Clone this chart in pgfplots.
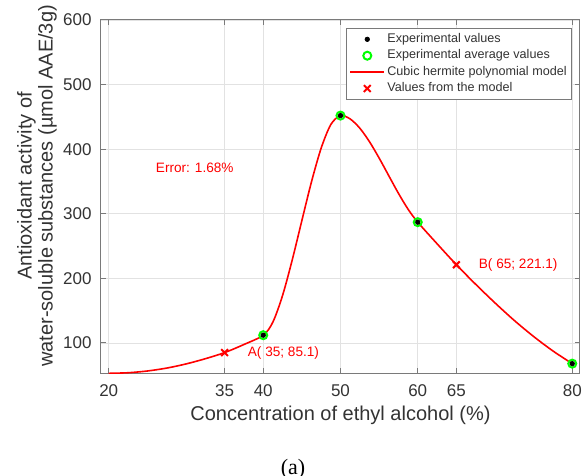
\documentclass[border=0pt]{standalone}
\usepackage{pgfplots}
\pgfplotsset{compat=1.18}
\usepackage{fontspec}
\setmainfont{Liberation Sans}
\newfontfamily\capfont{Liberation Serif}

\definecolor{axgray}{HTML}{7A7A7A}
\definecolor{txtgray}{HTML}{333333}
\definecolor{gridgray}{HTML}{E2E2E2}
\definecolor{mred}{HTML}{FF0000}
\definecolor{mgreen}{HTML}{00FF00}

\begin{document}
\begin{tikzpicture}
\begin{axis}[
    at={(0,0)}, anchor=south west,
    scale only axis, width=239.5pt, height=176.5pt,
    xmin=19, xmax=81, ymin=53.5, ymax=600,
    xtick={20,35,40,50,60,65,80},
    ytick={100,200,300,400,500,600},
    tick align=inside, major tick length=2.5pt,
    xtick pos=both, ytick pos=both,
    grid=major, major grid style={gridgray, line width=0.4pt},
    axis line style={axgray, line width=0.5pt},
    tick style={axgray, line width=0.5pt},
    /pgf/number format/assume math mode=true,
    tick label style={font=\fontsize{8.5}{10}\selectfont, text=txtgray},
    xticklabel style={yshift=-2.5pt},
    yticklabel style={xshift=-1.2pt},
    xlabel={Concentration of ethyl alcohol (\%)},
    xlabel style={at={(axis description cs:0.5,0)}, anchor=center, yshift=-21pt,
        font=\fontsize{10}{11}\selectfont, text=txtgray},
    ylabel={Antioxidant activity of\\water-soluble substances (µmol AAE/3g)},
    ylabel style={at={(axis description cs:0,0.53)}, anchor=center, yshift=32pt,
        align=center, font=\fontsize{10}{10.5}\selectfont, text=txtgray},
    legend style={at={(rel axis cs:0.983,0.977)}, anchor=north east,
        draw=axgray, line width=0.4pt, fill=white,
        font=\fontsize{6.3}{7}\selectfont, text=txtgray,
        nodes={inner sep=1.1pt, text height=4.6pt, text depth=1.4pt},
        inner sep=1.3pt},
    legend cell align=left,
]
\addlegendimage{only marks, mark=*, mark size=1.1pt, black}
\addlegendentry{Experimental values}
\addlegendimage{only marks, mark=o, mark size=2pt, mgreen, line width=1pt}
\addlegendentry{Experimental average values}
\addlegendimage{mred, line width=0.8pt}
\addlegendentry{Cubic hermite polynomial model}
\addlegendimage{only marks, mark=x, mark size=2.4pt, mred, line width=1pt}
\addlegendentry{Values from the model}

% model curve
\addplot[mred, line width=0.8pt, smooth, tension=0.5, forget plot] coordinates {
    (20,53) (22.5,53.9) (25,56.6) (27.5,61.1) (30,67.5) (32.5,75.6)
    (35,85.1) (37.5,97.6) (40,112)
    (41.25,132.4) (42.5,173.5) (43.75,228.4) (45,289.5) (46.25,349.7)
    (47.5,401.7) (48.75,438.2) (50,452)
    (51.25,446.8) (52.5,432.5) (53.75,411.6) (55,386.3) (56.25,358.9)
    (57.5,331.7) (58.75,307.0) (60,287)
    (62.5,253.6) (65,221.1) (67.5,190.8) (70,162.0) (72.5,134.8)
    (75,110.0) (77.5,87.6) (80,68)
};
% experimental average values
\addplot[only marks, mark=o, mark size=2pt, mgreen, line width=1pt, forget plot] coordinates {
    (20,53) (40,112) (50,452) (60,287) (80,68)
};
% experimental values
\addplot[only marks, mark=*, mark size=1.1pt, black, forget plot] coordinates {
    (20,53) (40,112) (50,452) (60,287) (80,68)
};
% values from the model
\addplot[only marks, mark=x, mark size=2.4pt, mred, line width=1pt, forget plot] coordinates {
    (35,85.1) (65,221.1)
};

\node[anchor=west, text=mred, font=\fontsize{6.8}{8}\selectfont] at (axis cs:25.2,371) {Error: 1.68\%};
\node[anchor=west, text=mred, font=\fontsize{6.8}{8}\selectfont] at (axis cs:37.1,85) {A( 35; 85.1)};
\node[anchor=west, text=mred, font=\fontsize{6.8}{8}\selectfont] at (axis cs:67,221) {B( 65; 221.1)};
\end{axis}
\node[font=\capfont\fontsize{11}{12}\selectfont] at (96pt,-48pt) {(a)};
\pgfresetboundingbox
\path (-50.5pt,-51.5pt) rectangle (241pt,186.5pt);
\end{tikzpicture}
\end{document}
